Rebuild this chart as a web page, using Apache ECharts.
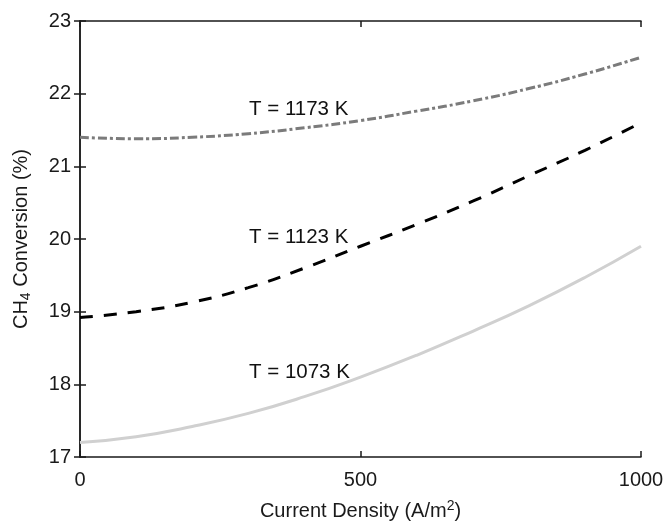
<!DOCTYPE html>
<html>
<head>
<meta charset="utf-8">
<script src="https://cdn.jsdelivr.net/npm/echarts@6/dist/echarts.min.js"></script>
<style>html,body{margin:0;padding:0;background:#fff}#c{width:667px;height:521px}</style>
</head>
<body>
<div id="c"></div>
<script>
const currentDensity = [0, 100, 200, 300, 400, 500, 600, 700, 800, 900, 1000];
const conv1173 = [21.40, 21.38, 21.40, 21.45, 21.53, 21.63, 21.76, 21.90, 22.07, 22.27, 22.50];
const conv1123 = [18.92, 19.00, 19.13, 19.33, 19.60, 19.90, 20.20, 20.52, 20.87, 21.22, 21.60];
const conv1073 = [17.20, 17.28, 17.42, 17.60, 17.83, 18.10, 18.40, 18.73, 19.08, 19.47, 19.90];
const xTicks = [0, 500, 1000];
const yTicks = [17, 18, 19, 20, 21, 22, 23];
const curveLabels = ['T = 1173 K', 'T = 1123 K', 'T = 1073 K'];

const font = 'Liberation Sans, Arial, sans-serif';
const pair = (ys) => currentDensity.map((x, i) => [x, ys[i]]);
const axisLine = { show: true, lineStyle: { color: '#1a1a1a', width: 1.5 } };
const axisTick = { show: true, inside: true, length: 6, lineStyle: { color: '#1a1a1a', width: 1.5 } };

const chart = echarts.init(document.getElementById('c'), null, { renderer: 'canvas' });
chart.setOption({
  animation: false,
  backgroundColor: '#fff',
  grid: { left: 80, right: 26, top: 21, bottom: 64, containLabel: false, outerBoundsMode: 'none' },
  xAxis: [{
    type: 'value', min: xTicks[0], max: xTicks[xTicks.length - 1], interval: 500,
    axisLine, axisTick, splitLine: { show: false },
    axisLabel: { color: '#1a1a1a', fontSize: 20, fontFamily: font, margin: 13, formatter: (v) => String(v) },
    name: 'Current Density (A/m{sup|2})', nameLocation: 'middle', nameGap: 42,
    nameTextStyle: { color: '#1a1a1a', fontSize: 20, fontFamily: font,
      rich: { sup: { fontSize: 14, fontFamily: font, color: '#1a1a1a', verticalAlign: 'top', padding: [0, 0, 10, 0] } } }
  }, {
    type: 'value', position: 'top', min: 0, max: 1000, interval: 500,
    axisLine, axisTick, axisLabel: { show: false }, splitLine: { show: false }
  }],
  yAxis: [{
    type: 'value', min: yTicks[0], max: yTicks[yTicks.length - 1], interval: 1,
    axisLine, axisTick, splitLine: { show: false },
    axisLabel: { color: '#1a1a1a', fontSize: 20, fontFamily: font, margin: 9 },
    name: 'CH{sub|4} Conversion (%)', nameLocation: 'middle', nameGap: 47, nameRotate: 90,
    nameTextStyle: { color: '#1a1a1a', fontSize: 20, fontFamily: font,
      rich: { sub: { fontSize: 14, fontFamily: font, color: '#1a1a1a', padding: [10, 0, 0, 0] } } }
  }, {
    type: 'value', position: 'right', min: 17, max: 23, interval: 1,
    axisLine, axisTick, axisLabel: { show: false }, splitLine: { show: false }
  }],
  series: [{
    name: curveLabels[0], type: 'line', smooth: true, symbol: 'none', data: pair(conv1173),
    lineStyle: { color: '#7b7b7b', width: 3, type: [9, 3, 3, 3] }
  }, {
    name: curveLabels[1], type: 'line', smooth: true, symbol: 'none', data: pair(conv1123),
    lineStyle: { color: '#000', width: 3, type: [13, 11] }
  }, {
    name: curveLabels[2], type: 'line', smooth: true, symbol: 'none', data: pair(conv1073),
    lineStyle: { color: '#d0d0d0', width: 3 }
  }],
  graphic: [
    { type: 'text', left: 249, top: 99, style: { text: curveLabels[0], font: '20.5px ' + font, fill: '#111' } },
    { type: 'text', left: 249, top: 227, style: { text: curveLabels[1], font: '20.5px ' + font, fill: '#111' } },
    { type: 'text', left: 249, top: 362, style: { text: curveLabels[2], font: '20.5px ' + font, fill: '#111' } }
  ]
});
</script>
</body>
</html>
